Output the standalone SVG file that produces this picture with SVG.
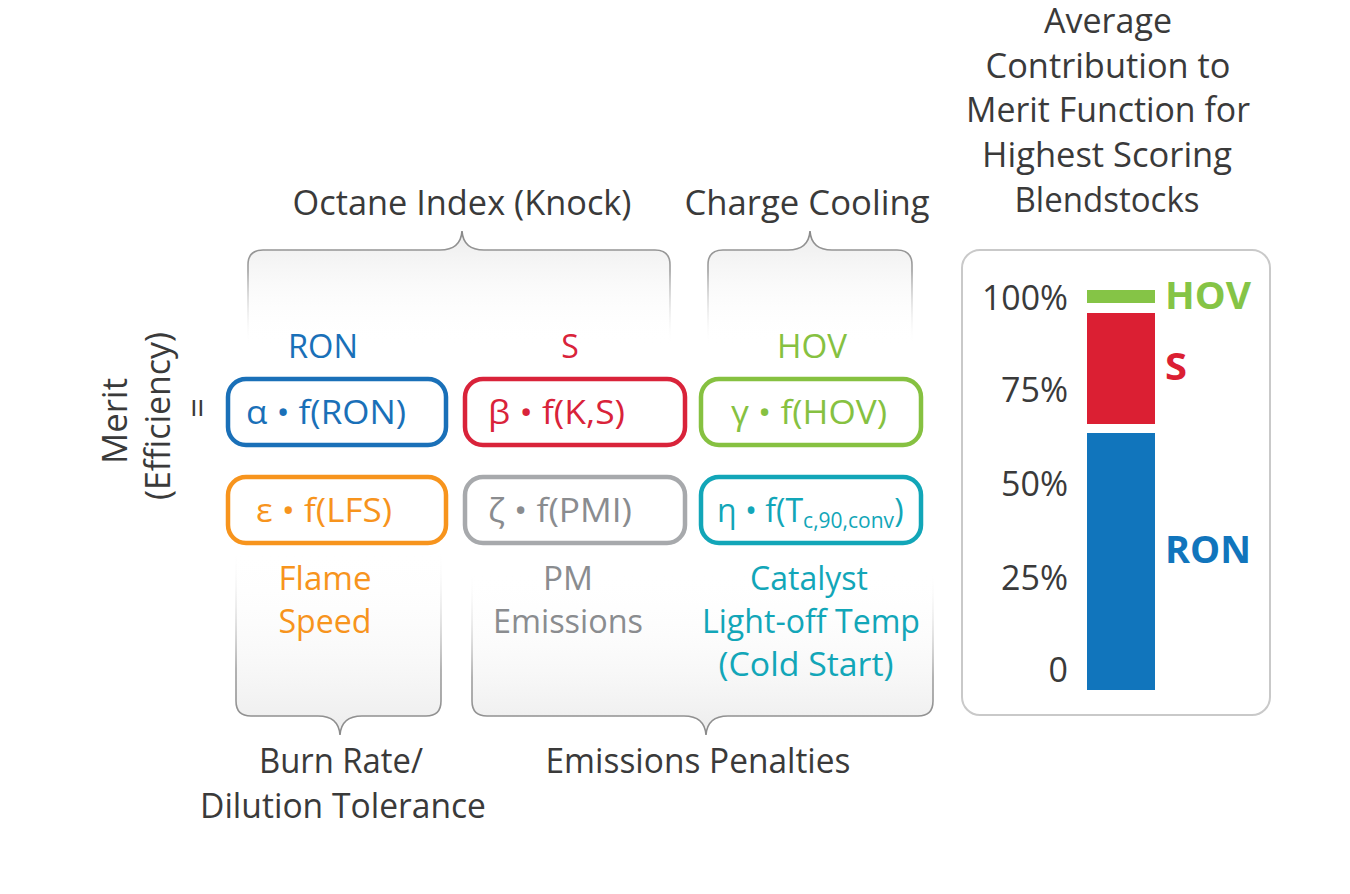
<svg xmlns="http://www.w3.org/2000/svg" width="1350" height="894" viewBox="0 0 1350 894">
<defs>
<linearGradient id="gTop" x1="0" y1="0" x2="0" y2="1">
<stop offset="0" stop-color="#ececec"/>
<stop offset="1" stop-color="#ffffff" stop-opacity="0"/>
</linearGradient>
<linearGradient id="gTopS" x1="0" y1="0" x2="0" y2="1">
<stop offset="0" stop-color="#8a8a8a"/>
<stop offset="0.35" stop-color="#a0a0a0"/>
<stop offset="1" stop-color="#ffffff" stop-opacity="0"/>
</linearGradient>
<linearGradient id="gBot" x1="0" y1="1" x2="0" y2="0">
<stop offset="0" stop-color="#ececec"/>
<stop offset="1" stop-color="#ffffff" stop-opacity="0"/>
</linearGradient>
<linearGradient id="gBotS" x1="0" y1="1" x2="0" y2="0">
<stop offset="0" stop-color="#8a8a8a"/>
<stop offset="0.35" stop-color="#a0a0a0"/>
<stop offset="1" stop-color="#ffffff" stop-opacity="0"/>
</linearGradient>
</defs>
<style>
text{font-family:"Open Sans","Noto Sans","Liberation Sans",sans-serif;}
.t{font-size:35px;fill:#3a3a3a;text-anchor:middle;}
.f{font-size:32px;text-anchor:start;}
.lab{font-size:32px;text-anchor:middle;}
.box{fill:#ffffff;stroke-width:4.5;}
.ax{font-size:34px;fill:#3a3a3a;text-anchor:end;}
.bl{font-size:37px;font-weight:bold;text-anchor:start;}
</style>
<rect width="1350" height="894" fill="#ffffff"/>

<g id="braces">
<path d="M248,345 L248,265 Q248,250 263,250 L440,250 C453,250 461,245 462,231 C463,245 471,250 484,250 L655,250 Q670,250 670,265 L670,345" fill="url(#gTop)" stroke="url(#gTopS)" stroke-width="1.6"/>
<path d="M708,345 L708,265 Q708,250 723,250 L788,250 C801,250 809,245 810,231 C811,245 819,250 832,250 L897,250 Q912,250 912,265 L912,345" fill="url(#gTop)" stroke="url(#gTopS)" stroke-width="1.6"/>
<path d="M236,548 L236,701 Q236,716 251,716 L318,716 C331,716 339,721 340,735 C341,721 349,716 362,716 L426,716 Q441,716 441,701 L441,548" fill="url(#gBot)" stroke="url(#gBotS)" stroke-width="1.6"/>
<path d="M472,570 L472,701 Q472,716 487,716 L684,716 C697,716 705,721 706,735 C707,721 715,716 728,716 L918,716 Q933,716 933,701 L933,570" fill="url(#gBot)" stroke="url(#gBotS)" stroke-width="1.6"/>
</g>

<g id="titles">
<text class="t" x="462" y="215" textLength="339" lengthAdjust="spacingAndGlyphs">Octane Index (Knock)</text>
<text class="t" x="807" y="215" textLength="245" lengthAdjust="spacingAndGlyphs">Charge Cooling</text>
<text class="t" x="1108" y="33" textLength="128" lengthAdjust="spacingAndGlyphs">Average</text>
<text class="t" x="1108" y="78" textLength="245" lengthAdjust="spacingAndGlyphs">Contribution to</text>
<text class="t" x="1108" y="122" textLength="284" lengthAdjust="spacingAndGlyphs">Merit Function for</text>
<text class="t" x="1107" y="167" textLength="250" lengthAdjust="spacingAndGlyphs">Highest Scoring</text>
<text class="t" x="1107" y="212" textLength="185" lengthAdjust="spacingAndGlyphs">Blendstocks</text>
<text class="t" x="341" y="773" textLength="164" lengthAdjust="spacingAndGlyphs">Burn Rate/</text>
<text class="t" x="343" y="818" textLength="286" lengthAdjust="spacingAndGlyphs">Dilution Tolerance</text>
<text class="t" x="698" y="773" textLength="305" lengthAdjust="spacingAndGlyphs">Emissions Penalties</text>
</g>

<g id="merit">
<text class="t" transform="translate(127,421) rotate(-90)" textLength="86" lengthAdjust="spacingAndGlyphs">Merit</text>
<text class="t" transform="translate(170,416) rotate(-90)" textLength="168" lengthAdjust="spacingAndGlyphs">(Efficiency)</text>
<text class="t" transform="translate(210,408) rotate(-90)">=</text>
</g>

<g id="node-ron">
<text class="lab" x="323" y="358" fill="#1a70b8" textLength="70" lengthAdjust="spacingAndGlyphs">RON</text>
<rect class="box" x="228" y="379" width="218" height="66" rx="18" stroke="#1a70b8"/>
<text class="f" x="246" y="424" fill="#1a70b8" textLength="160" lengthAdjust="spacingAndGlyphs">α • f(RON)</text>
</g>
<g id="node-s">
<text class="lab" x="570" y="358" fill="#d9233a">S</text>
<rect class="box" x="465" y="379" width="220" height="66" rx="18" stroke="#d9233a"/>
<text class="f" x="488" y="424" fill="#d9233a" textLength="137" lengthAdjust="spacingAndGlyphs">β • f(K,S)</text>
</g>
<g id="node-hov">
<text class="lab" x="812" y="358" fill="#86c141" textLength="70" lengthAdjust="spacingAndGlyphs">HOV</text>
<rect class="box" x="701" y="379" width="220" height="66" rx="18" stroke="#86c141"/>
<text class="f" x="731" y="424" fill="#86c141" textLength="156" lengthAdjust="spacingAndGlyphs">γ • f(HOV)</text>
</g>
<g id="node-lfs">
<rect class="box" x="228" y="477" width="218" height="66" rx="18" stroke="#f7941d"/>
<text class="f" x="256" y="522" fill="#f7941d" textLength="136" lengthAdjust="spacingAndGlyphs">ε • f(LFS)</text>
<text class="lab" x="325" y="590" fill="#f7941d" textLength="93" lengthAdjust="spacingAndGlyphs">Flame</text>
<text class="lab" x="325" y="633" fill="#f7941d" textLength="93" lengthAdjust="spacingAndGlyphs">Speed</text>
</g>
<g id="node-pmi">
<rect class="box" x="465" y="477" width="220" height="66" rx="18" stroke="#a7a9ac"/>
<text class="f" x="488" y="522" fill="#8a8c8f" textLength="144" lengthAdjust="spacingAndGlyphs">ζ • f(PMI)</text>
<text class="lab" x="568" y="590" fill="#8a8c8f" textLength="50" lengthAdjust="spacingAndGlyphs">PM</text>
<text class="lab" x="568" y="633" fill="#8a8c8f" textLength="150" lengthAdjust="spacingAndGlyphs">Emissions</text>
</g>
<g id="node-cat">
<rect class="box" x="701" y="477" width="220" height="66" rx="18" stroke="#12a6b8"/>
<text class="f" x="717" y="522" fill="#12a6b8">η • f(T<tspan font-size="21" dy="6">c,90,conv</tspan><tspan dy="-6">)</tspan></text>
<text class="lab" x="809" y="590" fill="#12a6b8" textLength="118" lengthAdjust="spacingAndGlyphs">Catalyst</text>
<text class="lab" x="811" y="633" fill="#12a6b8" textLength="218" lengthAdjust="spacingAndGlyphs">Light-off Temp</text>
<text class="lab" x="806" y="676" fill="#12a6b8" textLength="175" lengthAdjust="spacingAndGlyphs">(Cold Start)</text>
</g>

<g id="chart">
<rect x="962" y="250" width="308" height="465" rx="18" fill="#ffffff" stroke="#c9c9c9" stroke-width="2"/>
<text class="ax" x="1068" y="310" textLength="86" lengthAdjust="spacingAndGlyphs">100%</text>
<text class="ax" x="1068" y="402" textLength="67" lengthAdjust="spacingAndGlyphs">75%</text>
<text class="ax" x="1068" y="496" textLength="67" lengthAdjust="spacingAndGlyphs">50%</text>
<text class="ax" x="1068" y="590" textLength="67" lengthAdjust="spacingAndGlyphs">25%</text>
<text class="ax" x="1068" y="682">0</text>
<rect x="1087" y="290" width="68" height="13" fill="#85c446"/>
<rect x="1087" y="313" width="68" height="111" fill="#db1f33"/>
<rect x="1087" y="433" width="68" height="257" fill="#1175bc"/>
<text class="bl" x="1165" y="309" fill="#85c446" textLength="86" lengthAdjust="spacingAndGlyphs">HOV</text>
<text class="bl" x="1165" y="380" fill="#db1f33" textLength="22" lengthAdjust="spacingAndGlyphs">S</text>
<text class="bl" x="1165" y="563" fill="#1175bc" textLength="86" lengthAdjust="spacingAndGlyphs">RON</text>
</g>
</svg>
